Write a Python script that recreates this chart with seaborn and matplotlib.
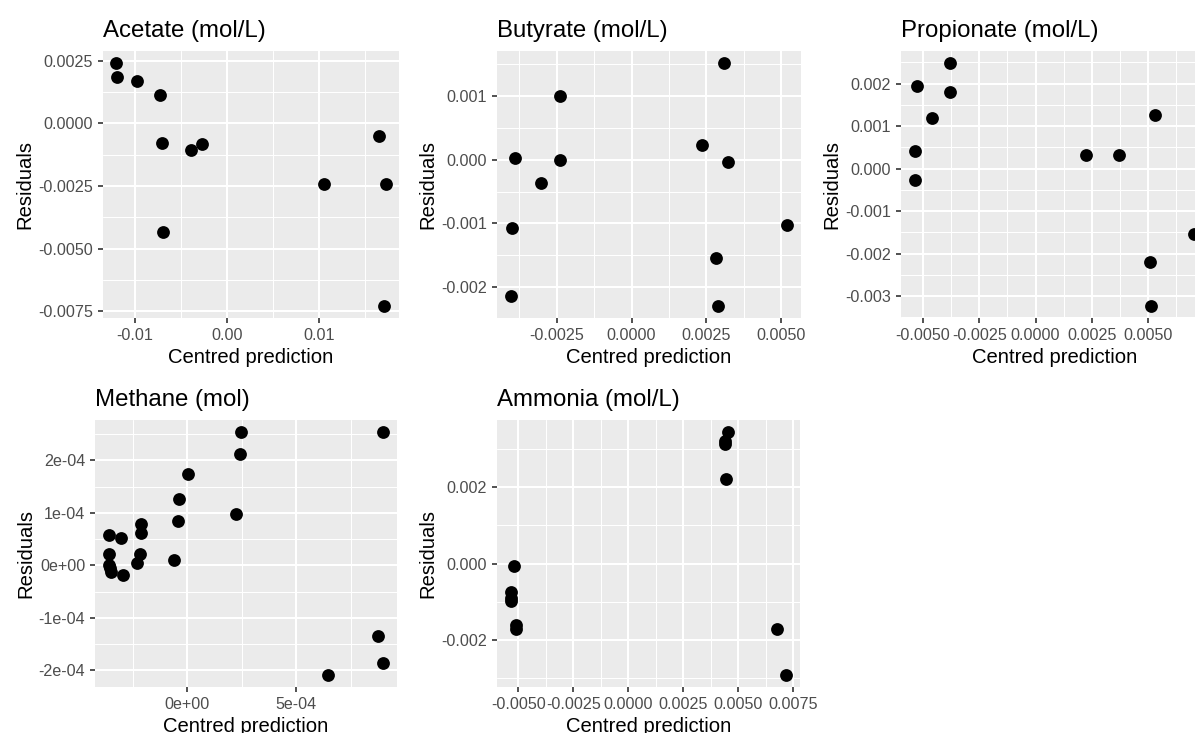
import matplotlib
matplotlib.use("Agg")
import matplotlib.pyplot as plt
import seaborn as sns
import pandas as pd

# ---------------- data ----------------
acetate_x = [-0.01196, -0.0119, -0.00978, -0.00725, -0.00703, -0.00384, -0.00268,
             -0.00696, 0.01051, 0.01645, 0.01717, 0.01703]
acetate_y = [0.0024, 0.00184, 0.00167, 0.00111, -0.00079, -0.00107, -0.00081,
             -0.00436, -0.00241, -0.00052, -0.00244, -0.00729]

butyrate_x = [-0.00391, -0.00238, -0.00238, -0.00303, -0.0040, -0.00404,
              0.00237, 0.00309, 0.00324, 0.00284, 0.00291, 0.00521]
butyrate_y = [0.00002, 0.000994, 0.0, -0.00036, -0.00107, -0.00214,
              0.000224, 0.00151, -0.00004, -0.00154, -0.00229, -0.00102]

propionate_x = [-0.00529, -0.00381, -0.00381, -0.00461, -0.00536, -0.00536,
                0.00226, 0.00369, 0.00529, 0.00508, 0.00511, 0.00704]
propionate_y = [0.00195, 0.00248, 0.0018, 0.00118, 0.000415, -0.000276,
                0.00033, 0.000314, 0.00125, -0.00219, -0.00323, -0.00154]

methane_x = [8.99e-4, 2.47e-4, 2.41e-4, 0.05e-4, -0.37e-4, -0.43e-4, 2.24e-4,
             -0.61e-4, -2.10e-4, -2.10e-4, -2.17e-4, -2.29e-4, -3.59e-4, -3.05e-4,
             -3.59e-4, -3.59e-4, -3.52e-4, -3.48e-4, -2.95e-4, 6.48e-4, 8.74e-4, 8.97e-4]
methane_y = [2.54e-4, 2.54e-4, 2.13e-4, 1.74e-4, 1.27e-4, 0.84e-4, 0.97e-4,
             0.096e-4, 0.785e-4, 0.607e-4, 0.224e-4, 0.052e-4, 0.575e-4, 0.523e-4,
             0.224e-4, 0.0, -0.06e-4, -0.128e-4, -0.19e-4, -2.09e-4, -1.34e-4, -1.86e-4]

ammonia_x = [0.00451, 0.00438, 0.00438, 0.00442, -0.00521, -0.00535, -0.00535,
             -0.00535, -0.00509, -0.00509, 0.00675, 0.00718]
ammonia_y = [0.00345, 0.00321, 0.00315, 0.00223, -0.00007, -0.00075, -0.00089,
             -0.00097, -0.0016, -0.00172, -0.00172, -0.00292]

titles = ["Acetate (mol/L)", "Butyrate (mol/L)", "Propionate (mol/L)",
          "Methane (mol)", "Ammonia (mol/L)"]

acetate_xticks = [-0.01, 0.0, 0.01]
acetate_xlabels = ["-0.01", "0.00", "0.01"]
acetate_yticks = [-0.0075, -0.005, -0.0025, 0.0, 0.0025]
acetate_ylabels = ["-0.0075", "-0.0050", "-0.0025", "0.0000", "0.0025"]

butyrate_xticks = [-0.0025, 0.0, 0.0025, 0.005]
butyrate_xlabels = ["-0.0025", "0.0000", "0.0025", "0.0050"]
butyrate_yticks = [-0.002, -0.001, 0.0, 0.001]
butyrate_ylabels = ["-0.002", "-0.001", "0.000", "0.001"]

propionate_xticks = [-0.005, -0.0025, 0.0, 0.0025, 0.005]
propionate_xlabels = ["-0.0050", "-0.0025", "0.0000", "0.0025", "0.0050"]
propionate_yticks = [-0.003, -0.002, -0.001, 0.0, 0.001, 0.002]
propionate_ylabels = ["-0.003", "-0.002", "-0.001", "0.000", "0.001", "0.002"]

methane_xticks = [0.0, 5e-4]
methane_xlabels = ["0e+00", "5e-04"]
methane_yticks = [-2e-4, -1e-4, 0.0, 1e-4, 2e-4]
methane_ylabels = ["-2e-04", "-1e-04", "0e+00", "1e-04", "2e-04"]

ammonia_xticks = [-0.005, -0.0025, 0.0, 0.0025, 0.005, 0.0075]
ammonia_xlabels = ["-0.0050", "-0.0025", "0.0000", "0.0025", "0.0050", "0.0075"]
ammonia_yticks = [-0.002, 0.0, 0.002]
ammonia_ylabels = ["-0.002", "0.000", "0.002"]

# ---------------- style ----------------
sns.set_theme(style="darkgrid")
plt.rcParams["font.family"] = ["Liberation Sans", "DejaVu Sans"]
plt.rcParams["axes.unicode_minus"] = False
plt.rcParams["axes.facecolor"] = "#EBEBEB"

W, H = 1195, 733
fig = plt.figure(figsize=(W / 100, H / 100), dpi=100)
fig.patch.set_facecolor("white")

# panel boxes in pixels: left, right, top, bottom
boxes = [
    (103, 399, 51, 318),
    (497, 801, 51, 318),
    (901, 1208, 51, 318),
    (95, 397, 420, 687),
    (497, 800, 420, 687),
]

panels = [
    (acetate_x, acetate_y, acetate_xticks, acetate_xlabels, acetate_yticks, acetate_ylabels),
    (butyrate_x, butyrate_y, butyrate_xticks, butyrate_xlabels, butyrate_yticks, butyrate_ylabels),
    (propionate_x, propionate_y, propionate_xticks, propionate_xlabels, propionate_yticks, propionate_ylabels),
    (methane_x, methane_y, methane_xticks, methane_xlabels, methane_yticks, methane_ylabels),
    (ammonia_x, ammonia_y, ammonia_xticks, ammonia_xlabels, ammonia_yticks, ammonia_ylabels),
]


def expand(vals, f=0.05):
    lo, hi = min(vals), max(vals)
    r = hi - lo
    return lo - f * r, hi + f * r


def minors(ticks):
    step = ticks[1] - ticks[0]
    out = [t - step / 2 for t in ticks] + [ticks[-1] + step / 2]
    return out


for (l, r, t, b), (xs, ys, xt, xl, yt, yl), title in zip(boxes, panels, titles):
    ax = fig.add_axes([l / W, (H - b) / H, (r - l) / W, (b - t) / H])
    df = pd.DataFrame({"x": xs, "y": ys})
    sns.scatterplot(data=df, x="x", y="y", ax=ax, color="black", s=85,
                    linewidth=0, zorder=3)
    ax.set_facecolor("#EBEBEB")
    ax.set_axisbelow(True)
    for sp in ax.spines.values():
        sp.set_visible(False)
    ax.set_xticks(xt, xl)
    ax.set_yticks(yt, yl)
    ax.set_xticks(minors(xt), minor=True)
    ax.set_yticks(minors(yt), minor=True)
    ax.set_xlim(*expand(xs))
    ax.set_ylim(*expand(ys))
    ax.grid(which="major", color="white", linewidth=1.5)
    ax.grid(which="minor", color="white", linewidth=0.75)
    ax.tick_params(which="major", length=3.5, width=1.2, color="#333333",
                   labelsize=11.6, labelcolor="#4D4D4D", pad=3.6,
                   bottom=True, left=True)
    ax.tick_params(which="minor", length=0)
    ax.set_xlabel("Centred prediction", fontsize=14.6, color="black", labelpad=3.5)
    ax.set_ylabel("Residuals", fontsize=14.6, color="black", labelpad=2.5)
    ax.set_title(title, loc="left", fontsize=17.3, color="black", pad=10.4)

fig.savefig("out.png", dpi=100, facecolor="white")
